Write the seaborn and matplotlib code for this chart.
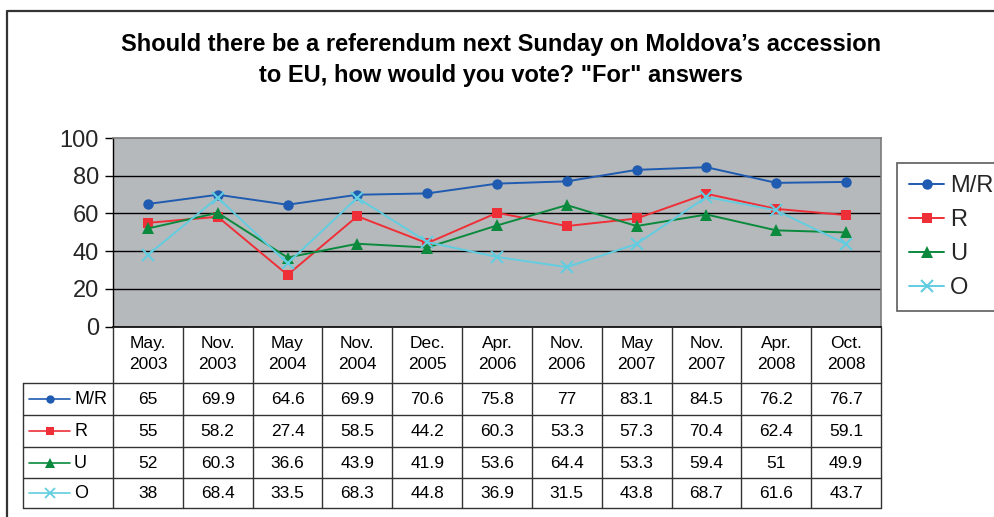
import numpy as np
import pandas as pd
import matplotlib
matplotlib.use("Agg")
import matplotlib.pyplot as plt
from matplotlib.lines import Line2D
import seaborn as sns

# ---------------- data ----------------
categories = ["May.\n2003", "Nov.\n2003", "May\n2004", "Nov.\n2004", "Dec.\n2005",
              "Apr.\n2006", "Nov.\n2006", "May\n2007", "Nov.\n2007", "Apr.\n2008", "Oct.\n2008"]
series_names = ["M/R", "R", "U", "O"]
mr_values = [65, 69.9, 64.6, 69.9, 70.6, 75.8, 77, 83.1, 84.5, 76.2, 76.7]
r_values = [55, 58.2, 27.4, 58.5, 44.2, 60.3, 53.3, 57.3, 70.4, 62.4, 59.1]
u_values = [52, 60.3, 36.6, 43.9, 41.9, 53.6, 64.4, 53.3, 59.4, 51, 49.9]
o_values = [38, 68.4, 33.5, 68.3, 44.8, 36.9, 31.5, 43.8, 68.7, 61.6, 43.7]
y_ticks = [0, 20, 40, 60, 80, 100]
title = "Should there be a referendum next Sunday on Moldova\u2019s accession\nto EU, how would you vote? \"For\" answers"

values = {"M/R": mr_values, "R": r_values, "U": u_values, "O": o_values}
colors = {"M/R": "#1f5bb0", "R": "#ee2f37", "U": "#0b8a3e", "O": "#62cde0"}
markers = {"M/R": "o", "R": "s", "U": "^", "O": "x"}
msizes = {"M/R": 7.5, "R": 7.5, "U": 8.5, "O": 8.5}

rows = []
for s in series_names:
    for i, v in enumerate(values[s]):
        rows.append({"idx": i, "val": v, "series": s})
df = pd.DataFrame(rows)

sns.set_theme(style="white")
plt.rcParams["font.family"] = ["Liberation Sans", "DejaVu Sans"]

W, H = 995, 517
fig = plt.figure(figsize=(W / 100, H / 100), dpi=100)
fig.patch.set_facecolor("white")

# plot area in pixels
px0, px1 = 113, 881
py_top, py_bot = 138, 326.5

def fx(x):
    return x / W

def fy(y):
    return 1 - y / H

ax = fig.add_axes([fx(px0), fy(py_bot), fx(px1 - px0), (py_bot - py_top) / H])
ax.set_facecolor("#b6b9bc")

for s in series_names:
    sub = df[df["series"] == s]
    sns.lineplot(data=sub, x="idx", y="val", ax=ax, color=colors[s], marker=markers[s],
                 markersize=msizes[s], markeredgewidth=(1.5 if s == "O" else 0),
                 markeredgecolor=colors[s], linewidth=1.4, label=s, legend=False)

ax.set_xlim(-0.5, len(categories) - 0.5)
ax.set_ylim(0, 100)
ax.set_yticks(y_ticks)
ax.set_yticklabels([str(t) for t in y_ticks], fontsize=17)
ax.set_xticks([])
ax.set_xlabel("")
ax.set_ylabel("")
for t in y_ticks[1:-1]:
    ax.axhline(t, color="black", linewidth=1.0, zorder=0.5)
ax.tick_params(axis="y", length=6, width=1, color="black", pad=4, left=True)
for side in ["top", "right", "bottom"]:
    ax.spines[side].set_color("#7a7a7a")
    ax.spines[side].set_linewidth(1.2)
ax.spines["left"].set_color("black")
ax.spines["left"].set_linewidth(1.0)
ax.spines["bottom"].set_color("black")

# legend
handles = [Line2D([0], [0], color=colors[s], marker=markers[s], markersize=msizes[s],
                  markeredgewidth=(1.5 if s == "O" else 0), markeredgecolor=colors[s],
                  linewidth=1.4) for s in series_names]
leg = fig.legend(handles, series_names, loc="upper left",
                 bbox_to_anchor=(fx(897), fy(163)), fontsize=17, frameon=True,
                 fancybox=False, edgecolor="#333333", handlelength=1.5,
                 handletextpad=0.25, borderpad=0.5, labelspacing=0.51,
                 borderaxespad=0)
leg.get_frame().set_linewidth(1.2)

# overlay in pixel coords for title, table, border
ov = fig.add_axes([0, 0, 1, 1])
ov.set_xlim(0, W)
ov.set_ylim(H, 0)
ov.axis("off")
ov.patch.set_alpha(0)

ov.text(501, 60, title, ha="center", va="center", fontsize=17, fontweight="bold",
        linespacing=1.45, color="black")

# outer border
ov.plot([6.5, 6.5, 1000], [H + 2, 10.5, 10.5], color="#333333", linewidth=1.6,
        clip_on=False, solid_capstyle="butt")

n = len(categories)
cw = (px1 - px0) / n
row_y = [383, 415, 447, 478, 507.5]
leg_x0 = 23
lc = "#333333"
# header vertical lines
for k in range(n + 1):
    x = px0 + k * cw
    ov.plot([x, x], [py_bot, row_y[-1]], color=lc, linewidth=1.0)
for k in range(n):
    ov.text(px0 + (k + 0.5) * cw, 354, categories[k], ha="center", va="center",
            fontsize=12.5, linespacing=1.5, color="black")
# horizontal lines of data rows
for y in row_y:
    ov.plot([leg_x0, px1], [y, y], color=lc, linewidth=1.0)
ov.plot([leg_x0, leg_x0], [row_y[0], row_y[-1]], color=lc, linewidth=1.0)

def fmt(v):
    return str(int(v)) if float(v).is_integer() else f"{v}"

for r, s in enumerate(series_names):
    yc = (row_y[r] + row_y[r + 1]) / 2
    ov.plot([29, 70], [yc, yc], color=colors[s], linewidth=1.2)
    ov.plot([49.5], [yc], marker=markers[s], color=colors[s], markersize=msizes[s] - 1.5,
            markeredgewidth=(1.3 if s == "O" else 0), markeredgecolor=colors[s], linestyle="none")
    ov.text(74, yc + 0.5, s, ha="left", va="center", fontsize=13, color="black")
    for k, v in enumerate(values[s]):
        ov.text(px0 + (k + 0.5) * cw, yc + 0.5, fmt(v), ha="center", va="center",
                fontsize=12.5, color="black")

fig.savefig("out.png", dpi=100, facecolor="white")
